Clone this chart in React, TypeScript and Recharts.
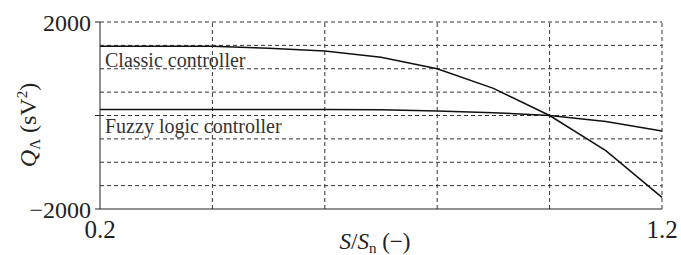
import React from 'react';
import { LineChart, Line, XAxis, YAxis, ReferenceLine, ReferenceDot } from 'recharts';

const loadRatio = [0.2, 0.3, 0.4, 0.5, 0.6, 0.7, 0.8, 0.9, 1.0, 1.1, 1.2];
const classic = [1480, 1480, 1480, 1440, 1380, 1245, 1000, 580, 0, -750, -1750];
const fuzzy = [130, 130, 130, 130, 130, 125, 95, 60, 0, -130, -330];

const xTicks = [0.2, 0.4, 0.6, 0.8, 1.0, 1.2];
const xLabeled = [0.2, 1.2];
const yTicks = [-2000, 0, 2000];
const yLabeled = [-2000, 2000];
const yGrid = [-1500, -1000, -500, 0, 500, 1000, 1500, 2000];
const xGrid = [0.4, 0.6, 0.8, 1.0, 1.2];

const data = loadRatio.map((s, i) => ({ s, classic: classic[i], fuzzy: fuzzy[i] }));

const serif = { fontFamily: "'Liberation Serif', serif" };
const ink = '#222';

function XTick({ x, y, payload }: any) {
  if (!xLabeled.includes(payload.value)) return null;
  return (
    <text x={x} y={y + 21} textAnchor="middle" style={serif} fontSize={25} fill={ink}>
      {payload.value.toFixed(1)}
    </text>
  );
}

function YTick({ x, y, payload }: any) {
  if (!yLabeled.includes(payload.value)) return null;
  const v = payload.value < 0 ? '\u2212' + Math.abs(payload.value) : String(payload.value);
  return (
    <text x={x} y={y + 9} textAnchor="end" style={serif} fontSize={24} fill={ink}>
      {v}
    </text>
  );
}

function curveLabel(text: string, dy: number) {
  return ({ viewBox }: any) => (
    <text x={viewBox.x + 5} y={viewBox.y + dy} style={serif} fontSize={20} fill="#333">
      {text}
    </text>
  );
}

export default function App() {
  return (
    <div style={{ position: 'absolute', left: 0, top: 0, background: '#fff' }}>
      <LineChart width={681} height={255} data={data} margin={{ top: 22, right: 19, bottom: 16, left: 40 }}>
        {yGrid.map((v) => (
          <ReferenceLine key={'h' + v} y={v} stroke="#333" strokeDasharray="4 3" strokeWidth={1} />
        ))}
        {xGrid.map((v) => (
          <ReferenceLine key={'v' + v} x={v} stroke="#333" strokeDasharray="4 3" strokeWidth={1} />
        ))}
        <XAxis
          dataKey="s"
          type="number"
          domain={[0.2, 1.2]}
          ticks={xTicks}
          height={30}
          stroke={ink}
          tickLine={false}
          tick={<XTick />}
          label={() => (
            <text x={375} y={249} textAnchor="middle" style={serif} fontSize={23} fill={ink}>
              <tspan fontStyle="italic">S</tspan>
              <tspan>/</tspan>
              <tspan fontStyle="italic">S</tspan>
              <tspan fontSize={15} dy={4}>n</tspan>
              <tspan dy={-4}> (−)</tspan>
            </text>
          )}
        />
        <YAxis
          type="number"
          domain={[-2000, 2000]}
          ticks={yTicks}
          width={60}
          stroke={ink}
          tickSize={5}
          tickMargin={4}
          tick={<YTick />}
          label={() => (
            <text x={0} y={0} transform="translate(36,125) rotate(-90)" textAnchor="middle" style={serif} fontSize={24} fill={ink}>
              <tspan fontStyle="italic">Q</tspan>
              <tspan fontSize={15} dy={4}>Λ</tspan>
              <tspan dy={-4}> (sV</tspan>
              <tspan fontSize={15} dy={-9}>2</tspan>
              <tspan dy={9}>)</tspan>
            </text>
          )}
        />
        <Line type="linear" dataKey="classic" stroke="#111" strokeWidth={1.5} dot={false} isAnimationActive={false} />
        <Line type="linear" dataKey="fuzzy" stroke="#111" strokeWidth={1.5} dot={false} isAnimationActive={false} />
        <ReferenceDot x={0.2} y={classic[0]} r={0} stroke="none" fill="none" label={curveLabel('Classic controller', 21)} />
        <ReferenceDot x={0.2} y={fuzzy[0]} r={0} stroke="none" fill="none" label={curveLabel('Fuzzy logic controller', 24)} />
      </LineChart>
    </div>
  );
}
